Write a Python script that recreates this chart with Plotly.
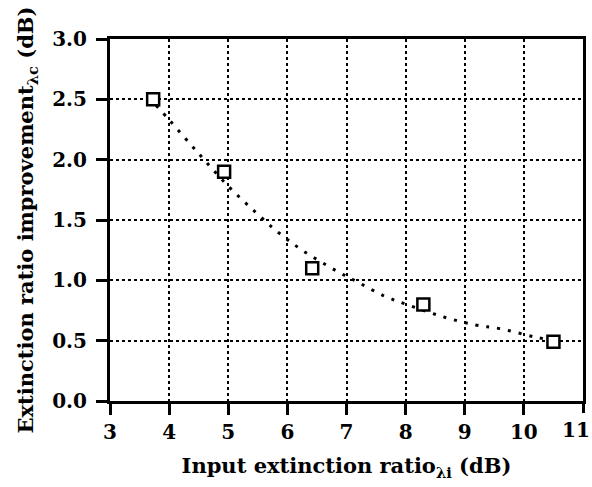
import plotly.graph_objects as go

# measured points
meas_x = [3.73, 4.93, 6.42, 8.30, 10.50]
meas_y = [2.50, 1.90, 1.10, 0.80, 0.49]

# dotted fitted curve
fit_x = [3.78, 4.0, 4.5, 5.0, 5.45, 5.84, 6.25, 6.86, 7.21, 7.64, 8.02, 8.62, 9.18, 9.59, 10.19, 10.50]
fit_y = [2.45, 2.33, 2.05, 1.78, 1.57, 1.40, 1.25, 1.07, 0.98, 0.87, 0.80, 0.70, 0.63, 0.60, 0.53, 0.50]

x_ticks = [3, 4, 5, 6, 7, 8, 9, 10, 11]
x_tick_text = ["3", "4", "5", "6", "7", "8", "9", "10", "11"]
y_ticks = [0.0, 0.5, 1.0, 1.5, 2.0, 2.5, 3.0]
y_tick_text = ["0.0", "0.5", "1.0", "1.5", "2.0", "2.5", "3.0"]

font_family = "DejaVu Serif"
tick_font = dict(family=font_family, size=20, color="black", weight="bold")

fig = go.Figure()
fig.add_trace(go.Scatter(
    x=fit_x, y=fit_y, mode="lines",
    line=dict(color="black", width=3, dash="3px,8px", shape="spline"),
    showlegend=False, hoverinfo="skip",
))
fig.add_trace(go.Scatter(
    x=meas_x, y=meas_y, mode="markers",
    marker=dict(symbol="square", size=12, color="white",
                line=dict(color="black", width=2.5)),
    showlegend=False,
))
# invisible helper trace so the overlay axis (last tick label, shifted inward) is drawn
fig.add_trace(go.Scatter(
    x=[x_ticks[-1]], y=[y_ticks[0]], xaxis="x2", mode="markers",
    marker=dict(opacity=0), showlegend=False, hoverinfo="skip",
))

axis_common = dict(
    showline=True, linecolor="black", linewidth=3, mirror=True,
    ticks="outside", ticklen=11, tickwidth=2.5, tickcolor="black",
    showgrid=True, gridcolor="black", gridwidth=1.5, griddash="dot",
    zeroline=False, automargin=False,
    tickfont=tick_font,
)

fig.update_layout(
    width=592, height=487,
    margin=dict(l=110, r=9, t=39, b=86),
    paper_bgcolor="white", plot_bgcolor="white",
    font=dict(family=font_family, color="black"),
    xaxis=dict(
        range=[3, 11], tickvals=x_ticks[:-1], ticktext=x_tick_text[:-1],
        title=dict(text="Input extinction ratio<sub>λi</sub> (dB)",
                   font=dict(family=font_family, size=21, color="black", weight="bold"),
                   standoff=16),
        **axis_common,
    ),
    xaxis2=dict(
        overlaying="x", matches="x", range=[3, 11], side="bottom",
        tickvals=x_ticks[-1:], ticktext=x_tick_text[-1:],
        ticks="outside", ticklen=11, tickwidth=2.5, tickcolor="black",
        ticklabelshift=-7, showline=False, showgrid=False, zeroline=False,
        automargin=False, tickfont=tick_font,
    ),
    yaxis=dict(
        range=[0, 3], tickvals=y_ticks, ticktext=y_tick_text,
        ticklabelstandoff=5,
        title=dict(text="Extinction ratio improvement<sub>λc</sub> (dB)",
                   font=dict(family=font_family, size=21, color="black", weight="bold"),
                   standoff=13),
        **axis_common,
    ),
)

fig.write_html("out.html", config={"displayModeBar": False},
               post_script="document.body.style.margin='0';")
